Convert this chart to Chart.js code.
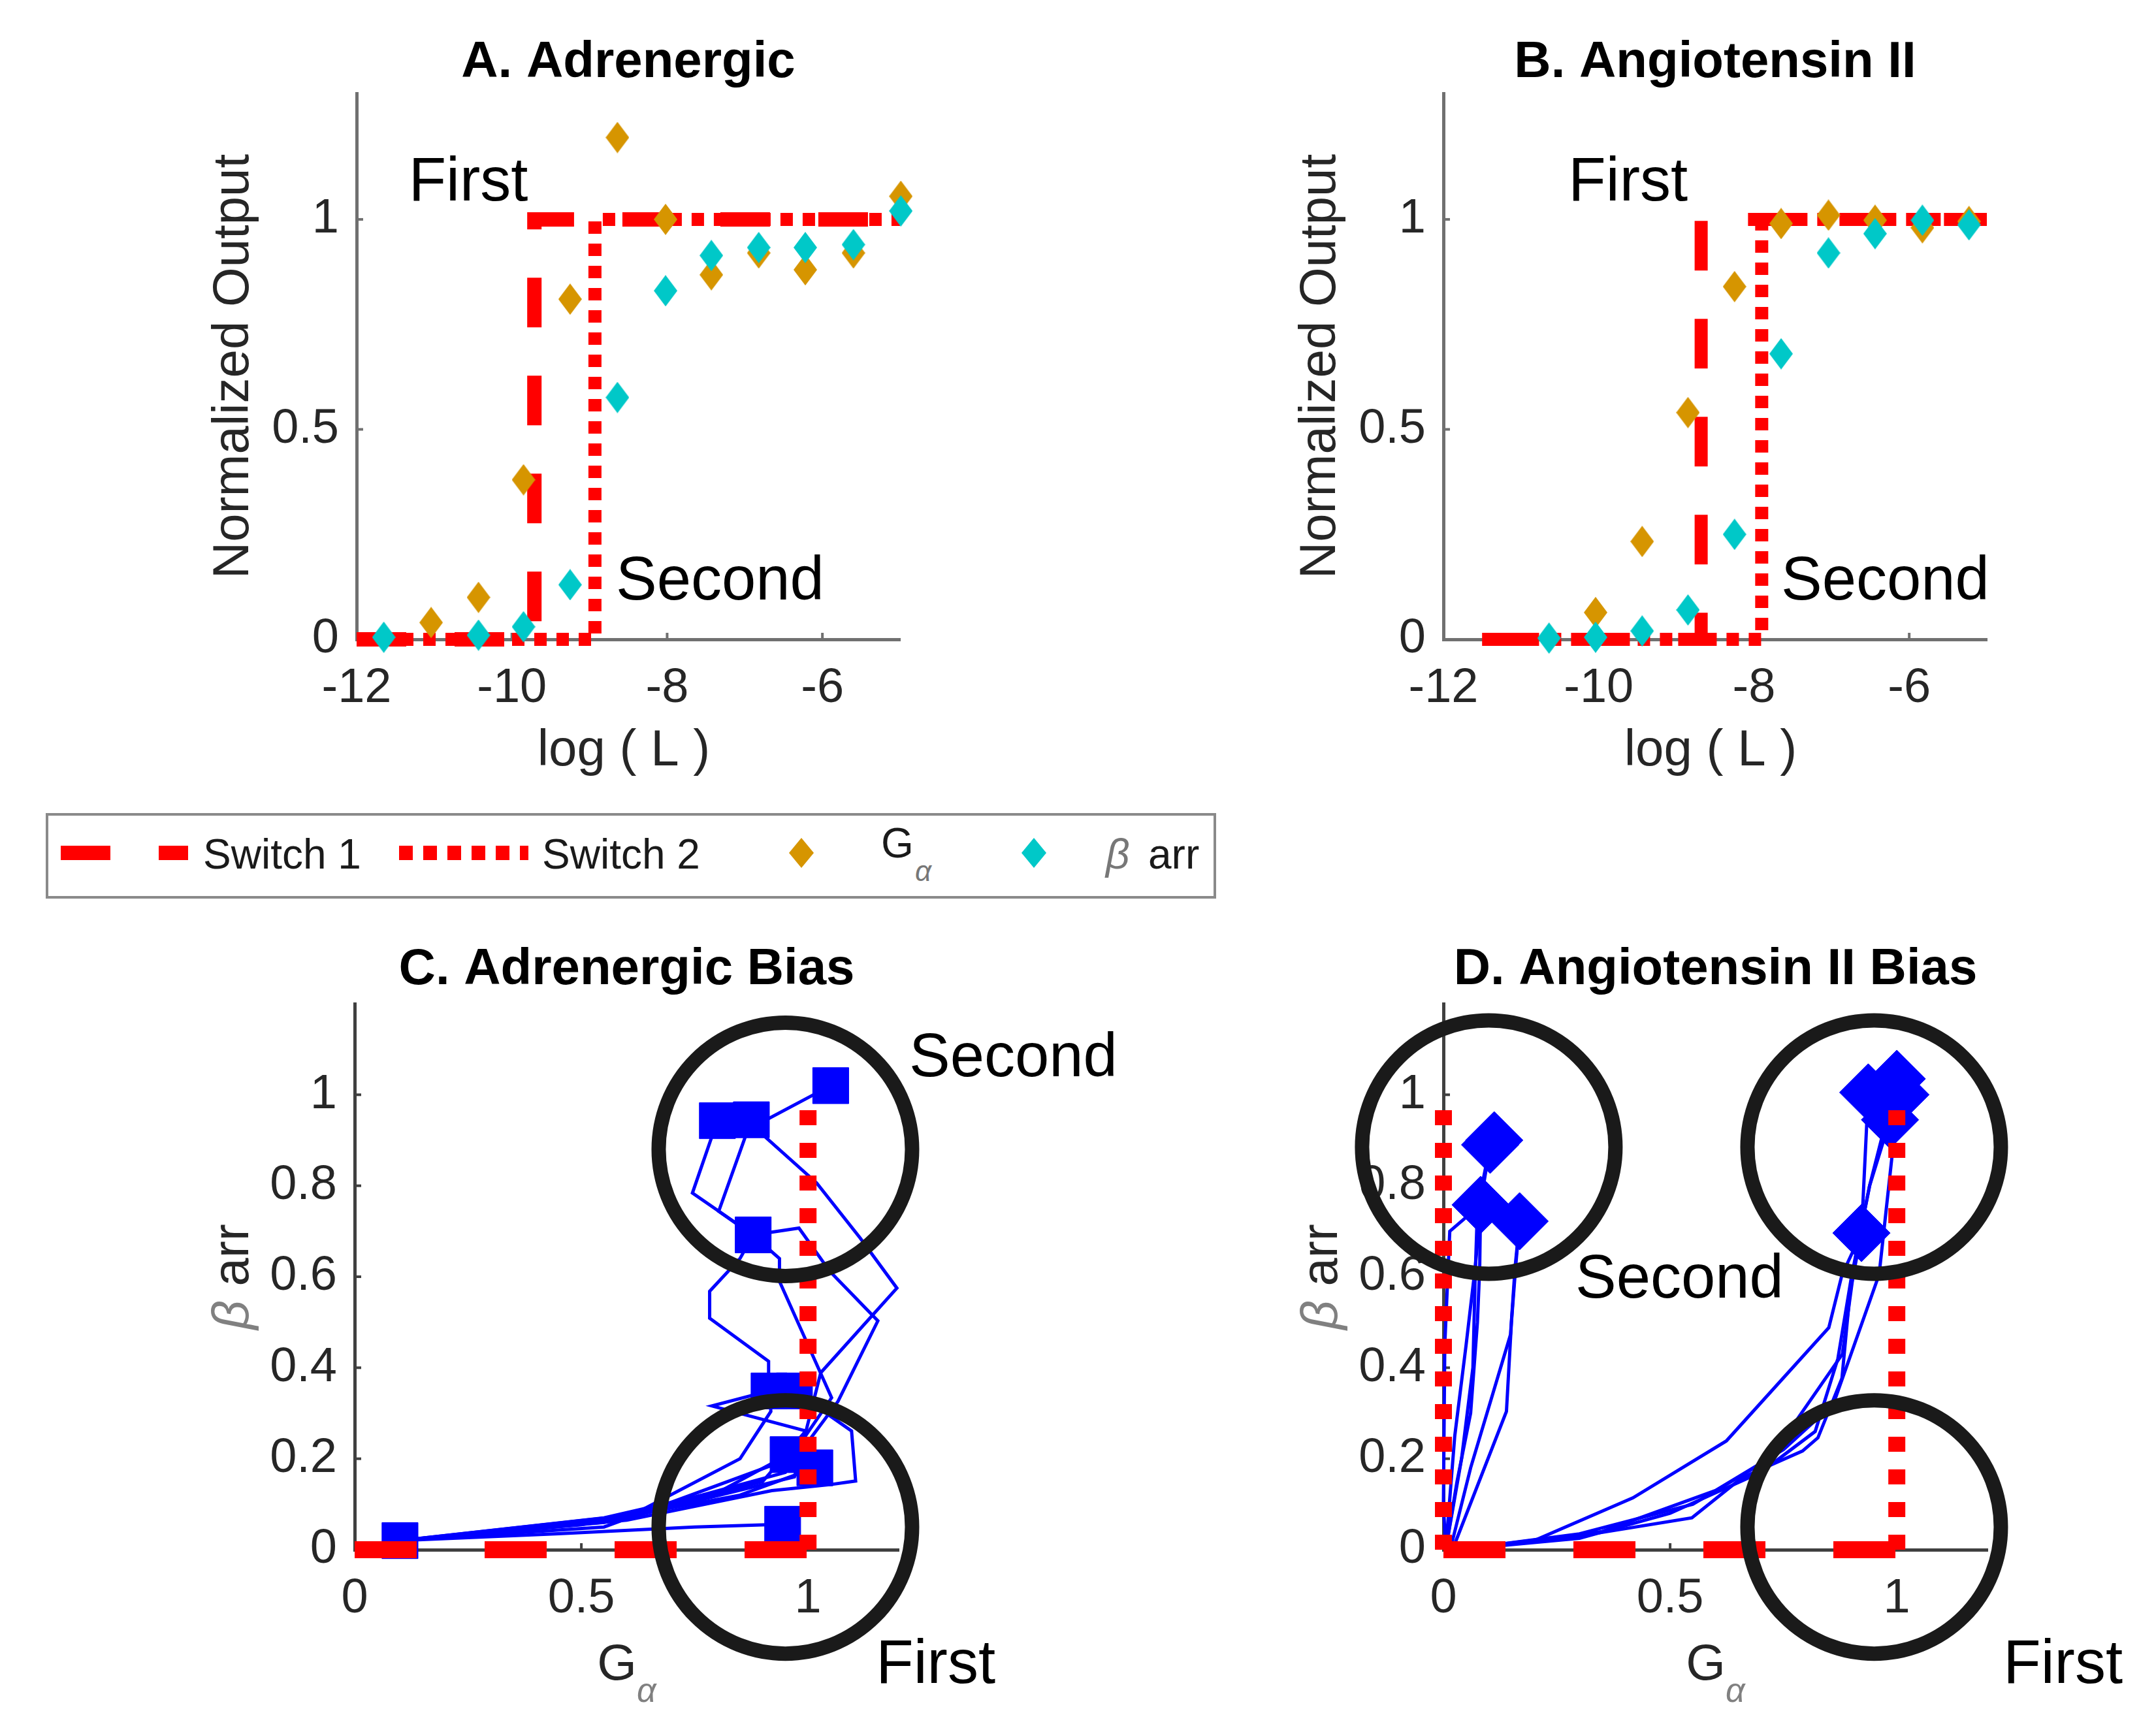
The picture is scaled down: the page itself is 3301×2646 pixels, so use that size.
<!DOCTYPE html>
<html>
<head>
<meta charset="utf-8">
<title>Adrenergic / Angiotensin II switches and bias</title>
<script src="https://cdn.jsdelivr.net/npm/chart.js@4.4.1/dist/chart.umd.min.js"></script>
<style>
  html, body { margin:0; padding:0; background:#ffffff; }
  body { width:3301px; height:2646px; position:relative; overflow:hidden; }
  canvas { position:absolute; display:block; }
  #legend { position:absolute; left:70px; top:1245px; }
  #legend text { font-family:'Liberation Sans', Arial, Helvetica, sans-serif; }
</style>
</head>
<body>
<canvas id="cA" style="left:0px;top:0px;width:1650px;height:1230px"></canvas>
<canvas id="cB" style="left:1650px;top:0px;width:1651px;height:1230px"></canvas>
<canvas id="cC" style="left:0px;top:1400px;width:1800px;height:1246px"></canvas>
<canvas id="cD" style="left:1650px;top:1400px;width:1651px;height:1246px"></canvas>

<svg id="legend" width="1792" height="131" viewBox="0 0 1792 131" xmlns="http://www.w3.org/2000/svg">
  <rect x="2" y="2" width="1788" height="127" fill="#ffffff" stroke="#8a8a8a" stroke-width="4"/>
  <line x1="23" y1="61" x2="218" y2="61" stroke="#ff0000" stroke-width="22" stroke-dasharray="76 74"/>
  <text x="241" y="85" font-size="64" fill="#1a1a1a">Switch 1</text>
  <line x1="541" y1="61" x2="739" y2="61" stroke="#ff0000" stroke-width="22" stroke-dasharray="21 16"/>
  <text x="760" y="85" font-size="64" fill="#1a1a1a">Switch 2</text>
  <polygon points="1157,38 1176,61 1157,84 1138,61" fill="#d69500"/>
  <text x="1279" y="68" font-size="64" fill="#1a1a1a">G</text>
  <text x="1331" y="104" font-size="44" font-style="italic" fill="#777777">α</text>
  <polygon points="1513,38 1532,61 1513,84 1494,61" fill="#00c8c8"/>
  <text x="1623" y="85" font-size="64" font-style="italic" fill="#777777">β</text>
  <text x="1688" y="85" font-size="64" fill="#1a1a1a">arr</text>
</svg>

<script>
// ---------------- data ----------------
// Panel A: Adrenergic dose response
const aLogL     = [-11.65, -11.04, -10.43, -9.85, -9.25, -8.64, -8.02, -7.43, -6.82, -6.22, -5.60, -4.99];
const aGalpha   = [null,    0.04,   0.10,  0.38,  0.81,  1.195, 1.00,  0.868, 0.92,  0.88,  0.92,  1.055];
const aBarr     = [0.005,   null,   0.01,  0.03,  0.13,  0.576, 0.83,  0.914, 0.933, 0.933, 0.94,  1.02];
const aSwitch1X = [-12, -9.71, -9.71, -5];
const aSwitch1Y = [0, 0, 1, 1];
const aSwitch2X = [-12, -8.93, -8.93, -5];
const aSwitch2Y = [0, 0, 1, 1];

// Panel B: Angiotensin II dose response
const bLogL     = [-10.64, -10.04, -9.44, -8.85, -8.25, -7.65, -7.04, -6.44, -5.83, -5.23];
const bGalpha   = [null,    0.064,  0.233, 0.54,  0.84,  0.99,  1.01,  0.998, 0.98,  0.995];
const bBarr     = [0.003,   0.005,  0.02,  0.07,  0.25,  0.68,  0.92,  0.966, 0.998, 0.987];
const bSwitch1X = [-11.5, -8.68, -8.68, -5];
const bSwitch1Y = [0, 0, 1, 1];
const bSwitch2X = [-11.5, -7.9, -7.9, -5];
const bSwitch2Y = [0, 0, 1, 1];

// Panel C: Adrenergic bias trajectories (G alpha vs beta arrestin)
const cTrajG = [
  [0.10, 0.45, 0.75, 0.944],
  [0.10, 0.50, 0.85, 1.015],
  [0.10, 0.55, 0.807, 0.956],
  [0.10, 0.55, 0.90, 0.995, 0.788, 0.914],
  [0.10, 0.60, 0.92, 1.048, 1.105, 1.096, 0.97],
  [0.10, 0.60, 0.95, 1.066, 1.154, 1.048, 0.98, 0.879],
  [0.10, 0.55, 0.96, 1.052, 0.937, 0.937, 0.88, 0.803, 0.875],
  [0.10, 0.60, 0.85, 0.918, 0.913, 0.913, 0.783, 0.783, 0.85, 0.879, 0.745, 0.80],
  [0.10, 0.60, 0.97, 1.028, 1.196, 1.115, 1.019, 0.88, 1.05]
];
const cTrajB = [
  [0.02, 0.035, 0.05, 0.056],
  [0.02, 0.055, 0.12, 0.18],
  [0.02, 0.07, 0.129, 0.209],
  [0.02, 0.06, 0.15, 0.261, 0.316, 0.349],
  [0.02, 0.065, 0.13, 0.143, 0.151, 0.261, 0.349],
  [0.02, 0.075, 0.17, 0.326, 0.503, 0.612, 0.707, 0.692],
  [0.02, 0.05, 0.20, 0.334, 0.59, 0.64, 0.69, 0.744, 0.945],
  [0.02, 0.07, 0.20, 0.304, 0.377, 0.414, 0.509, 0.568, 0.64, 0.692, 0.784, 0.943],
  [0.02, 0.07, 0.16, 0.389, 0.575, 0.685, 0.806, 0.93, 1.02]
];
const cMarkG = [0.10, 0.944, 1.015, 0.956, 0.914, 0.97, 0.879, 0.875, 0.80, 1.05];
const cMarkB = [0.02, 0.056, 0.18, 0.209, 0.349, 0.349, 0.692, 0.945, 0.943, 1.02];
const cSwitch1G = [0, 1];
const cSwitch1B = [0, 0];
const cSwitch2G = [1, 1];
const cSwitch2B = [0, 1];
const cCircleG = [0.95, 0.95];
const cCircleB = [0.88, 0.05];

// Panel D: Angiotensin II bias trajectories
const dTrajG = [
  [0.005, 0.0, 0.003, 0.014, 0.082],
  [0.005, 0.03, 0.06, 0.075, 0.08, 0.082],
  [0.005, 0.04, 0.065, 0.07, 0.075, 0.103],
  [0.015, 0.06, 0.148, 0.158, 0.168],
  [0.02, 0.139, 0.15, 0.16, 0.168],
  [0.005, 0.025, 0.05, 0.07, 0.085, 0.103],
  [0.03, 0.2, 0.418, 0.624, 0.85, 0.879, 0.922, 0.937],
  [0.03, 0.3, 0.548, 0.658, 0.792, 0.826, 0.879, 0.897, 0.922],
  [0.03, 0.3, 0.5, 0.7, 0.82, 0.87, 0.9, 0.94, 1.0],
  [0.03, 0.35, 0.6, 0.75, 0.86, 0.961, 0.989, 1.008],
  [0.03, 0.3, 0.55, 0.72, 0.88, 0.91, 0.94, 0.985]
];
const dTrajB = [
  [0.0, 0.1, 0.45, 0.70, 0.758],
  [0.0, 0.15, 0.3, 0.5, 0.62, 0.758],
  [0.0, 0.2, 0.4, 0.6, 0.75, 0.89],
  [0.0, 0.18, 0.473, 0.62, 0.722],
  [0.0, 0.304, 0.5, 0.63, 0.722],
  [0.0, 0.25, 0.45, 0.62, 0.78, 0.89],
  [0.0, 0.02, 0.114, 0.239, 0.488, 0.604, 0.696, 1.005],
  [0.0, 0.03, 0.07, 0.158, 0.217, 0.246, 0.377, 0.568, 0.696],
  [0.0, 0.025, 0.08, 0.17, 0.26, 0.42, 0.6, 0.8, 1.035],
  [0.0, 0.04, 0.13, 0.22, 0.32, 0.605, 0.861, 1.0],
  [0.0, 0.035, 0.1, 0.2, 0.43, 0.65, 0.8, 0.945]
];
const dMarkG = [0.082, 0.103, 0.112, 0.168, 0.922, 0.937, 1.0, 1.008, 0.985];
const dMarkB = [0.758, 0.89, 0.90, 0.722, 0.696, 1.005, 1.035, 1.0, 0.945];
const dSwitch1G  = [0, 1];
const dSwitch1B  = [0, 0];
const dSwitch2aG = [0, 0];
const dSwitch2aB = [0, 1];
const dSwitch2bG = [1, 1];
const dSwitch2bB = [0, 1];
const dCircleG = [0.10, 0.95, 0.95];
const dCircleB = [0.885, 0.885, 0.05];

// Axis ticks
const doseTicksX = [-12, -10, -8, -6];
const doseTicksY = [0, 0.5, 1];
const biasTicksX = [0, 0.5, 1];
const biasTicksY = [0, 0.2, 0.4, 0.6, 0.8, 1];

// ---------------- helpers ----------------
const FONT = "'Liberation Sans', Arial, Helvetica, sans-serif";
Chart.defaults.font.family = FONT;
const RED = '#ff0000', BLUE = '#0000ff', ORANGE = '#d69500', CYAN = '#00c8c8';

function pts(xs, ys) {
  const out = [];
  xs.forEach((x, i) => { if (ys[i] !== null && x !== null) out.push({ x: x, y: ys[i] }); });
  return out;
}
function diamondImg(color, hw, hh) {
  const c = document.createElement('canvas');
  c.width = 2 * hw; c.height = 2 * hh;
  const g = c.getContext('2d');
  g.fillStyle = color;
  g.beginPath();
  g.moveTo(hw, 0); g.lineTo(2 * hw, hh); g.lineTo(hw, 2 * hh); g.lineTo(0, hh);
  g.closePath(); g.fill();
  return c;
}
const diaOrange = diamondImg(ORANGE, 18, 24);
const diaCyan = diamondImg(CYAN, 18, 24);

function markerSet(label, data, img) {
  return { label, data, showLine: false, pointStyle: img, pointRadius: 22, clip: false };
}
function lineSet(label, data, width, dash, color) {
  return { label, data, showLine: true, borderColor: color || RED, borderWidth: width,
           borderDash: dash || [], borderCapStyle: 'butt', borderJoinStyle: 'miter',
           pointRadius: 0, tension: 0, fill: false, clip: false };
}

function drawParts(ctx, parts, cx, baseY, baseSize) {
  const fontOf = p => (p.italic ? 'italic ' : '') + (p.bold ? 'bold ' : '') + (p.size || baseSize) + 'px ' + FONT;
  let total = 0;
  parts.forEach(p => { ctx.font = fontOf(p); p._w = ctx.measureText(p.t).width; total += p._w; });
  let x = cx - total / 2;
  ctx.textAlign = 'left';
  ctx.textBaseline = 'alphabetic';
  parts.forEach(p => {
    ctx.font = fontOf(p);
    ctx.fillStyle = p.color || '#262626';
    ctx.fillText(p.t, x, baseY + (p.dy || 0));
    x += p._w;
  });
}

function panelPlugin(spec) {
  return {
    id: 'panelText',
    beforeDatasetsDraw(chart) {
      const ctx = chart.ctx, a = chart.chartArea, xs = chart.scales.x, ys = chart.scales.y;
      ctx.save();
      ctx.strokeStyle = spec.axisColor; ctx.lineWidth = 4;
      spec.xTicks.forEach(v => {
        if (v === xs.min) return;
        const p = xs.getPixelForValue(v);
        ctx.beginPath(); ctx.moveTo(p, a.bottom); ctx.lineTo(p, a.bottom - 10); ctx.stroke();
      });
      spec.yTicks.forEach(v => {
        if (v === ys.min) return;
        const p = ys.getPixelForValue(v);
        ctx.beginPath(); ctx.moveTo(a.left, p); ctx.lineTo(a.left + 10, p); ctx.stroke();
      });
      ctx.restore();
    },
    afterDraw(chart) {
      const ctx = chart.ctx, a = chart.chartArea, xs = chart.scales.x, ys = chart.scales.y;
      ctx.save();
      // title
      ctx.font = 'bold 78px ' + FONT;
      ctx.fillStyle = '#000000';
      ctx.textAlign = 'center';
      ctx.textBaseline = 'alphabetic';
      ctx.fillText(spec.title, (a.left + a.right) / 2, a.top - spec.titleGap);
      // x axis title
      drawParts(ctx, spec.xTitle, (a.left + a.right) / 2 + (spec.xTitleShift || 0), a.bottom + spec.xTitleGap, 78);
      // y axis title (rotated)
      ctx.save();
      ctx.translate(a.left - spec.yTitleGap, (a.top + a.bottom) / 2);
      ctx.rotate(-Math.PI / 2);
      drawParts(ctx, spec.yTitle, 0, 0, 78);
      ctx.restore();
      // annotations
      ctx.font = '94px ' + FONT;
      ctx.fillStyle = '#000000';
      ctx.textAlign = 'left';
      ctx.textBaseline = 'alphabetic';
      spec.notes.forEach(n => ctx.fillText(n.t, xs.getPixelForValue(n.x), ys.getPixelForValue(n.y)));
      ctx.restore();
    }
  };
}

function makePanel(id, W, H, area, xr, yr, spec, datasets) {
  const cv = document.getElementById(id);
  cv.width = W; cv.height = H;
  const tickFont = { family: FONT, size: 74 };
  return new Chart(cv, {
    type: 'scatter',
    data: { datasets },
    options: {
      responsive: false, animation: false, devicePixelRatio: 1, events: [],
      layout: { autoPadding: false, padding: { left: 0, top: area.top, right: W - area.right, bottom: 0 } },
      plugins: { legend: { display: false }, tooltip: { enabled: false }, title: { display: false } },
      scales: {
        x: {
          type: 'linear', min: xr[0], max: xr[1],
          grid: { display: false, drawTicks: false },
          border: { display: true, color: spec.axisColor, width: 5 },
          ticks: { font: tickFont, color: '#262626', padding: 31, maxRotation: 0, autoSkip: false,
                   callback: v => String(v) },
          afterBuildTicks: s => { s.ticks = spec.xTicks.map(v => ({ value: v })); },
          afterFit: s => { s.height = H - area.bottom; }
        },
        y: {
          type: 'linear', min: yr[0], max: yr[1],
          grid: { display: false, drawTicks: false },
          border: { display: true, color: spec.axisColor, width: 5 },
          ticks: { font: tickFont, color: '#262626', padding: 27, autoSkip: false,
                   callback: v => String(v) },
          afterBuildTicks: s => { s.ticks = spec.yTicks.map(v => ({ value: v })); },
          afterFit: s => { s.width = area.left; }
        }
      }
    },
    plugins: [panelPlugin(spec)]
  });
}

// ---------------- panel A ----------------
makePanel('cA', 1650, 1230, { left: 546, top: 143, right: 1378, bottom: 979 }, [-12, -5], [0, 1.3], {
  title: 'A. Adrenergic', titleGap: 25, axisColor: '#707070',
  xTicks: doseTicksX, yTicks: doseTicksY,
  xTitle: [{ t: 'log ( L )' }], xTitleGap: 193, xTitleShift: -7,
  yTitle: [{ t: 'Normalized Output' }], yTitleGap: 166,
  notes: [{ t: 'First', x: -11.33, y: 1.045 }, { t: 'Second', x: -8.66, y: 0.095 }]
}, [
  markerSet('β arr', pts(aLogL, aBarr), diaCyan),
  markerSet('Gα', pts(aLogL, aGalpha), diaOrange),
  lineSet('Switch 2', pts(aSwitch2X, aSwitch2Y), 20, [19, 15]),
  lineSet('Switch 1', pts(aSwitch1X, aSwitch1Y), 22, [76, 74])
]);

// ---------------- panel B ----------------
makePanel('cB', 1651, 1230, { left: 560, top: 143, right: 1392, bottom: 979 }, [-12, -5], [0, 1.3], {
  title: 'B. Angiotensin II', titleGap: 25, axisColor: '#707070',
  xTicks: doseTicksX, yTicks: doseTicksY,
  xTitle: [{ t: 'log ( L )' }], xTitleGap: 193, xTitleShift: -7,
  yTitle: [{ t: 'Normalized Output' }], yTitleGap: 166,
  notes: [{ t: 'First', x: -10.39, y: 1.045 }, { t: 'Second', x: -7.65, y: 0.095 }]
}, [
  markerSet('β arr', pts(bLogL, bBarr), diaCyan),
  markerSet('Gα', pts(bLogL, bGalpha), diaOrange),
  lineSet('Switch 2', pts(bSwitch2X, bSwitch2Y), 20, [19, 15]),
  lineSet('Switch 1', pts(bSwitch1X, bSwitch1Y), 20, [76, 74])
]);

// ---------------- panel C ----------------
const circleSet = data => ({ label: 'region', data, showLine: false, pointStyle: 'circle', pointRadius: 194,
  pointBorderWidth: 22, pointBorderColor: '#1a1a1a', pointBackgroundColor: 'rgba(0,0,0,0)', clip: false });
const cSets = [
  circleSet(pts(cCircleG, cCircleB)),
  lineSet('Switch 2', pts(cSwitch2G, cSwitch2B), 26, [23, 27]),
  lineSet('Switch 1', pts(cSwitch1G, cSwitch1B), 26, [95, 104]),
  { label: 'end', data: pts(cMarkG, cMarkB), showLine: false, pointStyle: 'rect', pointRadius: 39,
    pointBackgroundColor: BLUE, pointBorderColor: BLUE, pointBorderWidth: 1, clip: false }
];
cTrajG.forEach((g, i) => cSets.push(lineSet('traj ' + (i + 1), pts(g, cTrajB[i]), 5, [], BLUE)));
makePanel('cC', 1800, 1246, { left: 543, top: 137, right: 1376, bottom: 973 }, [0, 1.2], [0, 1.2], {
  title: 'C. Adrenergic Bias', titleGap: 30, axisColor: '#404040',
  xTicks: biasTicksX, yTicks: biasTicksY,
  xTitle: [{ t: 'G' }, { t: 'α', size: 52, italic: true, color: '#808080', dy: 34 }], xTitleGap: 199,
  yTitle: [{ t: 'β', italic: true, color: '#808080' }, { t: ' arr' }], yTitleGap: 163,
  notes: [{ t: 'Second', x: 1.223, y: 1.04 }, { t: 'First', x: 1.15, y: -0.293 }]
}, cSets);

// ---------------- panel D ----------------
const dSets = [
  circleSet(pts(dCircleG, dCircleB)),
  lineSet('Switch 2', pts(dSwitch2aG, dSwitch2aB), 26, [23, 27]),
  lineSet('Switch 2', pts(dSwitch2bG, dSwitch2bB), 26, [23, 27]),
  lineSet('Switch 1', pts(dSwitch1G, dSwitch1B), 26, [95, 104]),
  { label: 'end', data: pts(dMarkG, dMarkB), showLine: false, pointStyle: 'rectRot', pointRadius: 44,
    pointBackgroundColor: BLUE, pointBorderColor: BLUE, pointBorderWidth: 1, clip: false }
];
dTrajG.forEach((g, i) => dSets.push(lineSet('traj ' + (i + 1), pts(g, dTrajB[i]), 5, [], BLUE)));
makePanel('cD', 1651, 1246, { left: 560, top: 137, right: 1393, bottom: 973 }, [0, 1.2], [0, 1.2], {
  title: 'D. Angiotensin II Bias', titleGap: 30, axisColor: '#404040',
  xTicks: biasTicksX, yTicks: biasTicksY,
  xTitle: [{ t: 'G' }, { t: 'α', size: 52, italic: true, color: '#808080', dy: 34 }], xTitleGap: 199,
  yTitle: [{ t: 'β', italic: true, color: '#808080' }, { t: ' arr' }], yTitleGap: 163,
  notes: [{ t: 'Second', x: 0.291, y: 0.554 }, { t: 'First', x: 1.235, y: -0.293 }]
}, dSets);
</script>
</body>
</html>
